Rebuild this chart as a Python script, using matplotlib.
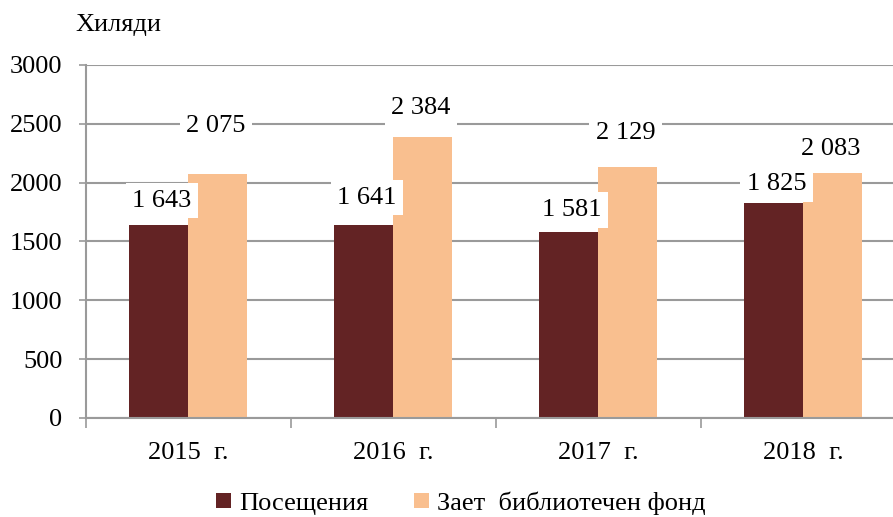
import matplotlib
matplotlib.use("Agg")
import matplotlib.pyplot as plt
import numpy as np

categories = ["2015  г.", "2016  г.", "2017  г.", "2018  г."]
visits = [1643, 1641, 1581, 1825]
loans = [2075, 2384, 2129, 2083]
series_names = ["Посещения", "Зает  библиотечен фонд"]
yticks = [0, 500, 1000, 1500, 2000, 2500, 3000]

c_dark = "#632324"
c_light = "#F9BF8F"
grid_c = "#9A9A9A"

plt.rcParams['font.family'] = ['Liberation Serif', 'DejaVu Serif']
FS = 19

fig = plt.figure(figsize=(8.93, 5.17), dpi=100)
ax = fig.add_axes([0.0963, 0.1915, 0.918, 0.6828])

x = np.arange(len(categories))
w = 0.288
b1 = ax.bar(x - w / 2, visits, w, color=c_dark, zorder=2, label=series_names[0])
b2 = ax.bar(x + w / 2, loans, w, color=c_light, zorder=2, label=series_names[1])

ax.set_xlim(-0.5, len(categories) - 0.5)
ax.set_ylim(0, 3000)
ax.set_yticks(yticks)
ax.set_yticklabels([str(v) for v in yticks], fontsize=FS, family='Liberation Serif')
ax.set_xticks(x)
ax.set_xticklabels(categories, fontsize=FS, family='Liberation Serif')
ax.tick_params(axis='x', length=0, pad=17)
ax.set_xticks(np.arange(len(categories) + 1) - 0.5, minor=True)
ax.tick_params(axis='x', which='minor', length=7, color=grid_c, width=1.2)
ax.tick_params(axis='y', length=5, color=grid_c, width=1.2, pad=12)

ax.grid(axis='y', color=grid_c, linewidth=1.5, zorder=0)
for s in ['top', 'right']:
    ax.spines[s].set_visible(False)
for s in ['left', 'bottom']:
    ax.spines[s].set_color(grid_c)
    ax.spines[s].set_linewidth(1.5)

def fmt(v):
    return f"{v:,}".replace(",", " ")

off_dark = [24, 27, 22, 19]
off_light = [48, 29, 34, 24]
for i in range(len(categories)):
    ax.annotate(fmt(visits[i]), (x[i] - w / 2, visits[i]), xytext=(3, off_dark[i]),
                textcoords='offset pixels', ha='center', va='center', fontsize=FS,
                zorder=3, bbox=dict(boxstyle='square,pad=0.25', fc='white', ec='none'))
    ax.annotate(fmt(loans[i]), (x[i] + w / 2, loans[i]), xytext=(-2, off_light[i]),
                textcoords='offset pixels', ha='center', va='center', fontsize=FS,
                zorder=3, bbox=dict(boxstyle='square,pad=0.25', fc='white', ec='none'))

fig.text(0.084, 0.952, "Хиляди", fontsize=FS, ha='left', va='center')

fig.legend(handles=[b1, b2], labels=series_names, loc='center', bbox_to_anchor=(0.516, 0.027),
           ncol=2, frameon=False, fontsize=FS, handlelength=0.55, handleheight=0.55,
           handletextpad=0.3, columnspacing=1.75)

fig.savefig("out.png", dpi=100)
